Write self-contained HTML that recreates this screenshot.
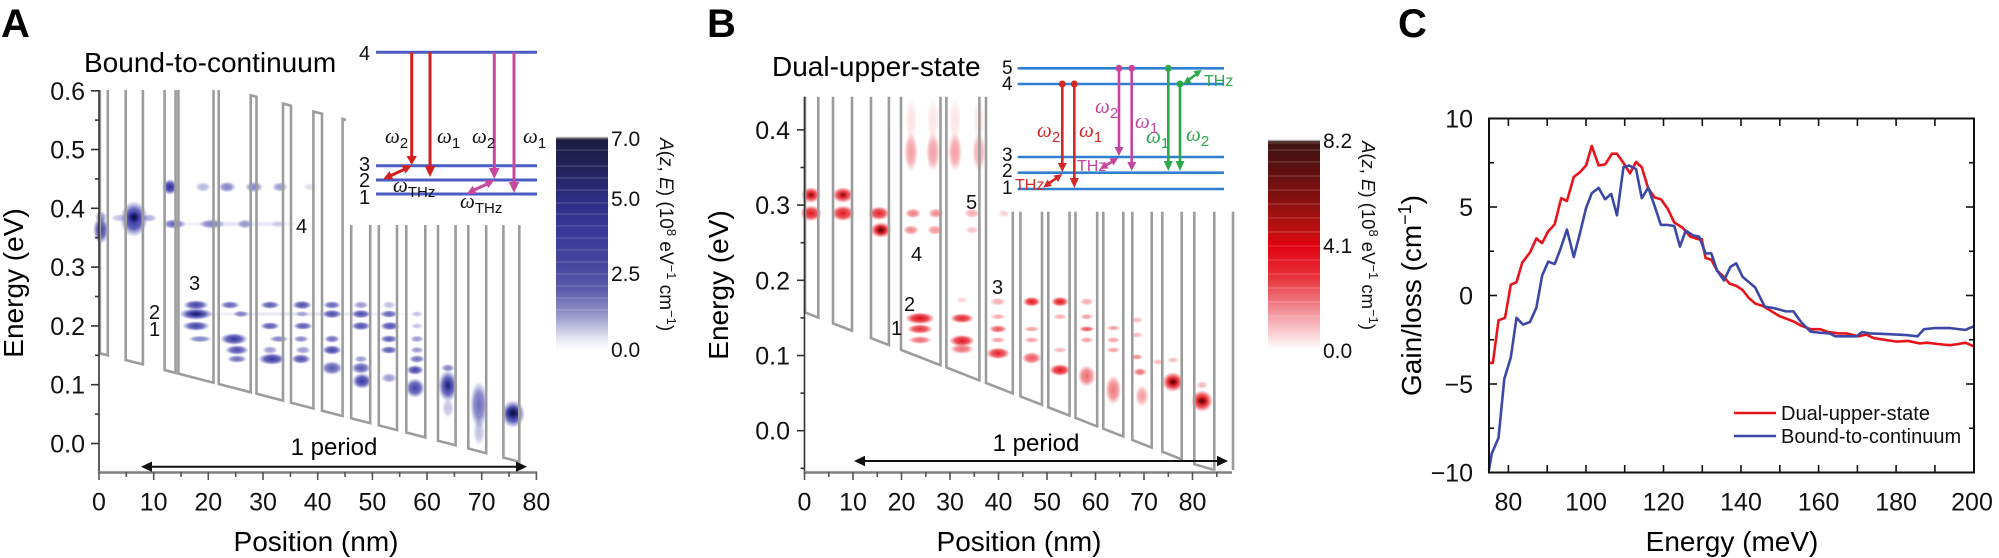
<!DOCTYPE html>
<html><head><meta charset="utf-8"><style>
html,body{margin:0;padding:0;background:#fff;}
svg{display:block;font-family:"Liberation Sans",Arial,sans-serif;}
</style></head><body>
<svg width="1999" height="558" viewBox="0 0 1999 558" xmlns="http://www.w3.org/2000/svg">
<defs>
<radialGradient id="ga"><stop offset="0" stop-color="#2a2a9c" stop-opacity="1"/><stop offset="0.55" stop-color="#3434a6" stop-opacity="0.78"/><stop offset="0.8" stop-color="#4a4ab0" stop-opacity="0.35"/><stop offset="1" stop-color="#5a5ab8" stop-opacity="0"/></radialGradient>
<radialGradient id="gad"><stop offset="0" stop-color="#0c0c38" stop-opacity="1"/><stop offset="0.5" stop-color="#18186a" stop-opacity="0.7"/><stop offset="1" stop-color="#2a2a9c" stop-opacity="0"/></radialGradient>
<radialGradient id="gr"><stop offset="0" stop-color="#e00814" stop-opacity="1"/><stop offset="0.55" stop-color="#e41822" stop-opacity="0.78"/><stop offset="0.8" stop-color="#ea3038" stop-opacity="0.35"/><stop offset="1" stop-color="#f05058" stop-opacity="0"/></radialGradient>
<radialGradient id="grd"><stop offset="0" stop-color="#4a0404" stop-opacity="1"/><stop offset="0.5" stop-color="#8a0808" stop-opacity="0.7"/><stop offset="1" stop-color="#e00814" stop-opacity="0"/></radialGradient>
<linearGradient id="cba" x1="0" y1="0" x2="0" y2="1">
<stop offset="0" stop-color="#1c1c3e"/><stop offset="0.15" stop-color="#22225c"/><stop offset="0.3" stop-color="#2e2e86"/><stop offset="0.45" stop-color="#383898"/><stop offset="0.6" stop-color="#46469e"/><stop offset="0.72" stop-color="#5c5cac"/><stop offset="0.84" stop-color="#9a9acc"/><stop offset="0.94" stop-color="#e2e2f0"/><stop offset="1" stop-color="#ffffff"/></linearGradient>
<linearGradient id="cbb" x1="0" y1="0" x2="0" y2="1">
<stop offset="0" stop-color="#3c1410"/><stop offset="0.12" stop-color="#581010"/><stop offset="0.3" stop-color="#8c1010"/><stop offset="0.44" stop-color="#c01010"/><stop offset="0.5" stop-color="#e00010"/><stop offset="0.65" stop-color="#e83038"/><stop offset="0.8" stop-color="#f08890"/><stop offset="0.92" stop-color="#fad0d4"/><stop offset="1" stop-color="#ffffff"/></linearGradient>
<clipPath id="clipA"><rect x="97" y="90" width="445" height="384"/></clipPath>
<clipPath id="clipB"><rect x="802" y="96.7" width="435" height="374"/></clipPath>
</defs>
<rect width="1999" height="558" fill="#fff"/>

<!-- ================= PANEL A ================= -->
<text x="1" y="37" font-size="40" font-weight="bold">A</text>
<g fill="url(#ga)">
<ellipse cx="101" cy="230" rx="8" ry="14" opacity="0.9"/>
<ellipse cx="101" cy="217" rx="6" ry="6" opacity="0.5"/>
<ellipse cx="134" cy="219" rx="14" ry="18" opacity="1"/>
<ellipse cx="149" cy="218" rx="8" ry="4" opacity="0.4"/>
<ellipse cx="119" cy="218" rx="8" ry="4" opacity="0.3"/>
<ellipse cx="170" cy="187" rx="8" ry="8" opacity="1"/>
<ellipse cx="203" cy="187" rx="8" ry="5" opacity="0.35"/>
<ellipse cx="227" cy="187" rx="9" ry="5.5" opacity="0.6"/>
<ellipse cx="254" cy="187" rx="9" ry="5.5" opacity="0.6"/>
<ellipse cx="280" cy="187" rx="8" ry="5" opacity="0.5"/>
<ellipse cx="310" cy="187" rx="7" ry="4" opacity="0.15"/>
<ellipse cx="174" cy="224" rx="12" ry="5" opacity="0.75"/>
<ellipse cx="212" cy="224" rx="13" ry="5" opacity="0.6"/>
<ellipse cx="245" cy="224" rx="8" ry="5" opacity="0.45"/>
<ellipse cx="278" cy="224" rx="7" ry="4" opacity="0.2"/>
<ellipse cx="240" cy="224" rx="80" ry="3" opacity="0.12"/>
<ellipse cx="196" cy="305" rx="13" ry="5" opacity="0.9"/>
<ellipse cx="230" cy="305" rx="10" ry="4" opacity="0.75"/>
<ellipse cx="270" cy="305" rx="10" ry="4" opacity="0.8"/>
<ellipse cx="302" cy="305" rx="10" ry="4.5" opacity="0.85"/>
<ellipse cx="332" cy="305" rx="9" ry="4" opacity="0.75"/>
<ellipse cx="361" cy="305" rx="8" ry="4" opacity="0.5"/>
<ellipse cx="389" cy="305" rx="7" ry="4" opacity="0.3"/>
<ellipse cx="196" cy="314" rx="17" ry="6" opacity="1"/>
<ellipse cx="241" cy="314" rx="8" ry="3.5" opacity="0.6"/>
<ellipse cx="302" cy="314" rx="7" ry="3" opacity="0.4"/>
<ellipse cx="332" cy="314" rx="10" ry="4.5" opacity="0.85"/>
<ellipse cx="361" cy="314" rx="10" ry="4.5" opacity="0.85"/>
<ellipse cx="389" cy="314" rx="9" ry="4" opacity="0.75"/>
<ellipse cx="417" cy="314" rx="6" ry="3" opacity="0.3"/>
<ellipse cx="300" cy="314" rx="130" ry="2.5" opacity="0.12"/>
<ellipse cx="196" cy="326" rx="14" ry="5" opacity="0.9"/>
<ellipse cx="270" cy="326" rx="10" ry="4" opacity="0.8"/>
<ellipse cx="303" cy="326" rx="10" ry="4" opacity="0.8"/>
<ellipse cx="361" cy="326" rx="10" ry="4.5" opacity="0.85"/>
<ellipse cx="390" cy="326" rx="10" ry="4.5" opacity="0.85"/>
<ellipse cx="417" cy="326" rx="6" ry="3" opacity="0.3"/>
<ellipse cx="200" cy="339" rx="12" ry="3.5" opacity="0.6"/>
<ellipse cx="234" cy="339" rx="14" ry="6" opacity="0.95"/>
<ellipse cx="279" cy="339" rx="10" ry="3.5" opacity="0.6"/>
<ellipse cx="301" cy="339" rx="8" ry="3.5" opacity="0.6"/>
<ellipse cx="332" cy="339" rx="8" ry="4" opacity="0.7"/>
<ellipse cx="389" cy="339" rx="9" ry="4" opacity="0.8"/>
<ellipse cx="417" cy="339" rx="7" ry="3.5" opacity="0.5"/>
<ellipse cx="237" cy="350" rx="12" ry="5" opacity="0.85"/>
<ellipse cx="270" cy="350" rx="8" ry="4" opacity="0.5"/>
<ellipse cx="303" cy="350" rx="8" ry="4" opacity="0.5"/>
<ellipse cx="332" cy="350" rx="10" ry="5" opacity="0.9"/>
<ellipse cx="389" cy="350" rx="9" ry="4" opacity="0.8"/>
<ellipse cx="417" cy="350" rx="7" ry="3.5" opacity="0.5"/>
<ellipse cx="237" cy="359" rx="10" ry="4" opacity="0.7"/>
<ellipse cx="272" cy="359" rx="14" ry="6" opacity="0.95"/>
<ellipse cx="301" cy="359" rx="10" ry="5" opacity="0.85"/>
<ellipse cx="361" cy="359" rx="7" ry="3.5" opacity="0.5"/>
<ellipse cx="417" cy="359" rx="8" ry="4" opacity="0.7"/>
<ellipse cx="332" cy="368" rx="11" ry="7" opacity="0.8"/>
<ellipse cx="361" cy="368" rx="10" ry="6" opacity="0.8"/>
<ellipse cx="415" cy="370" rx="9" ry="5" opacity="0.9"/>
<ellipse cx="448" cy="368" rx="7" ry="4" opacity="0.6"/>
<ellipse cx="362" cy="381" rx="10" ry="8" opacity="0.95"/>
<ellipse cx="389" cy="378" rx="8" ry="5" opacity="0.5"/>
<ellipse cx="415" cy="388" rx="10" ry="10" opacity="0.9"/>
<ellipse cx="448" cy="386" rx="10" ry="16" opacity="0.95"/>
<ellipse cx="448" cy="408" rx="6" ry="10" opacity="0.3"/>
<ellipse cx="479" cy="405" rx="9" ry="24" opacity="0.7"/>
<ellipse cx="479" cy="432" rx="6" ry="14" opacity="0.3"/>
<ellipse cx="513" cy="414" rx="12" ry="14" opacity="1"/>
</g>
<ellipse cx="134" cy="217" rx="7" ry="6" fill="url(#gad)"/>
<ellipse cx="196" cy="314" rx="9" ry="3" fill="url(#gad)" opacity="0.6"/>
<ellipse cx="513" cy="413" rx="8" ry="7" fill="url(#gad)"/>
<ellipse cx="448" cy="385" rx="5" ry="7" fill="url(#gad)" opacity="0.5"/>
<g clip-path="url(#clipA)">
<path d="M99.9,56.3 L99.9,353.3 L107.8,355.3 L107.8,58.3 L125.7,63 L125.7,360 L142.9,364.4 L142.9,67.4 L164.6,73 L164.6,370 L175.6,372.9 L175.6,75.9 L178.4,76.6 L178.4,373.6 L213.5,382.7 L213.5,85.7 L218.7,87 L218.7,384 L250.7,392.3 L250.7,95.3 L256.5,96.8 L256.5,393.8 L283,400.6 L283,103.6 L291,105.7 L291,402.7 L313.4,408.5 L313.4,111.5 L322,113.7 L322,410.7 L342.6,416 L342.6,119 L351.2,121.3 L351.2,418.3 L370.2,423.2 L370.2,126.2 L378.8,128.4 L378.8,425.4 L397,430.1 L397,133.1 L406.3,135.5 L406.3,432.5 L425.3,437.4 L425.3,140.4 L438,143.7 L438,440.7 L455.6,445.2 L455.6,148.2 L468.3,151.5 L468.3,448.5 L486.2,453.2 L486.2,156.2 L503.4,160.6 L503.4,457.6 L519.3,461.7 L519.3,164.7" fill="none" stroke="#9c9c9c" stroke-width="2.6" stroke-linejoin="miter"/>
</g>
<rect x="346" y="0" width="206" height="225" fill="#fff"/>
<g stroke="#4a5cc4" stroke-width="3">
<line x1="376" y1="52.3" x2="537" y2="52.3"/>
<line x1="376" y1="165.7" x2="537" y2="165.7"/>
<line x1="376" y1="180" x2="537" y2="180"/>
<line x1="376" y1="194" x2="537" y2="194"/>
</g>
<g font-size="20" fill="#111">
<text x="359" y="60">4</text><text x="359" y="171">3</text><text x="359" y="187">2</text><text x="359" y="204">1</text>
</g>
<g stroke="#d62020" stroke-width="3" fill="#d62020">
<line x1="411.7" y1="52" x2="411.7" y2="158"/><polygon points="406.5,156 416.9,156 411.7,165" stroke="none"/>
<line x1="430" y1="52" x2="430" y2="168"/><polygon points="424.8,166 435.2,166 430,177" stroke="none"/>
<line x1="390" y1="176" x2="405" y2="169"/>
<polygon points="383.3,179 393.3,179.2 389.5,171" stroke="none"/>
<polygon points="411.7,165.5 405.5,173.5 401.7,165.3" stroke="none"/>
</g>
<g stroke="#c8489e" stroke-width="3" fill="#c8489e">
<line x1="494.3" y1="52" x2="494.3" y2="170"/><polygon points="489,168 499.6,168 494.3,179" stroke="none"/>
<line x1="514" y1="52" x2="514" y2="184"/><polygon points="508.8,182 519.2,182 514,193" stroke="none"/>
<line x1="474" y1="190" x2="487" y2="184"/>
<polygon points="466.7,194 476.8,193.9 472.7,185.9" stroke="none"/>
<polygon points="494.3,180 488.3,188.1 484.3,180.1" stroke="none"/>
</g>
<g fill="#111" font-family="Liberation Serif,serif" font-style="italic" font-size="21">
<text x="385" y="143">ω<tspan font-family="Liberation Sans,sans-serif" font-style="normal" font-size="15" dy="5">2</tspan></text>
<text x="437" y="143">ω<tspan font-family="Liberation Sans,sans-serif" font-style="normal" font-size="15" dy="5">1</tspan></text>
<text x="472" y="143">ω<tspan font-family="Liberation Sans,sans-serif" font-style="normal" font-size="15" dy="5">2</tspan></text>
<text x="523" y="143">ω<tspan font-family="Liberation Sans,sans-serif" font-style="normal" font-size="15" dy="5">1</tspan></text>
<text x="393" y="192">ω<tspan font-family="Liberation Sans,sans-serif" font-style="normal" font-size="15" dy="5">THz</tspan></text>
<text x="460" y="208">ω<tspan font-family="Liberation Sans,sans-serif" font-style="normal" font-size="15" dy="5">THz</tspan></text>
</g>
<text x="84" y="72" font-size="28">Bound-to-continuum</text>
<line x1="99" y1="90" x2="99" y2="473" stroke="#333" stroke-width="1.6"/>
<line x1="98" y1="472.5" x2="537" y2="472.5" stroke="#808080" stroke-width="2.5"/>
<g stroke="#333" stroke-width="1.6">
<line x1="91" y1="443.5" x2="99" y2="443.5"/><line x1="91" y1="384.7" x2="99" y2="384.7"/><line x1="91" y1="325.9" x2="99" y2="325.9"/><line x1="91" y1="267.1" x2="99" y2="267.1"/><line x1="91" y1="208.3" x2="99" y2="208.3"/><line x1="91" y1="149.5" x2="99" y2="149.5"/><line x1="91" y1="90.8" x2="99" y2="90.8"/>
<line x1="95" y1="414.1" x2="99" y2="414.1"/><line x1="95" y1="355.3" x2="99" y2="355.3"/><line x1="95" y1="296.5" x2="99" y2="296.5"/><line x1="95" y1="237.7" x2="99" y2="237.7"/><line x1="95" y1="178.9" x2="99" y2="178.9"/><line x1="95" y1="120.1" x2="99" y2="120.1"/>
</g>
<g stroke="#555" stroke-width="1.6">
<line x1="99" y1="472" x2="99" y2="480"/><line x1="153.7" y1="472" x2="153.7" y2="480"/><line x1="208.3" y1="472" x2="208.3" y2="480"/><line x1="263" y1="472" x2="263" y2="480"/><line x1="317.7" y1="472" x2="317.7" y2="480"/><line x1="372.4" y1="472" x2="372.4" y2="480"/><line x1="427" y1="472" x2="427" y2="480"/><line x1="481.7" y1="472" x2="481.7" y2="480"/><line x1="536.4" y1="472" x2="536.4" y2="480"/>
<line x1="126.3" y1="472" x2="126.3" y2="477"/><line x1="181" y1="472" x2="181" y2="477"/><line x1="235.7" y1="472" x2="235.7" y2="477"/><line x1="290.4" y1="472" x2="290.4" y2="477"/><line x1="345" y1="472" x2="345" y2="477"/><line x1="399.7" y1="472" x2="399.7" y2="477"/><line x1="454.4" y1="472" x2="454.4" y2="477"/><line x1="509" y1="472" x2="509" y2="477"/>
</g>
<g font-size="25" text-anchor="end" fill="#111">
<text x="85" y="452.5">0.0</text><text x="85" y="393.7">0.1</text><text x="85" y="334.9">0.2</text><text x="85" y="276.1">0.3</text><text x="85" y="217.3">0.4</text><text x="85" y="158.5">0.5</text><text x="85" y="99.8">0.6</text>
</g>
<g font-size="25" text-anchor="middle" fill="#111">
<text x="99" y="510.5">0</text><text x="153.7" y="510.5">10</text><text x="208.3" y="510.5">20</text><text x="263" y="510.5">30</text><text x="317.7" y="510.5">40</text><text x="372.4" y="510.5">50</text><text x="427" y="510.5">60</text><text x="481.7" y="510.5">70</text><text x="536.4" y="510.5">80</text>
</g>
<text x="316" y="551" font-size="28" text-anchor="middle">Position (nm)</text>
<text transform="translate(23,283) rotate(-90)" font-size="28" text-anchor="middle">Energy (eV)</text>
<g font-size="20" fill="#111">
<text x="296" y="233">4</text><text x="189" y="290">3</text><text x="149" y="319">2</text><text x="149" y="336">1</text>
</g>
<text x="334" y="455" font-size="24" text-anchor="middle">1 period</text>
<line x1="148" y1="466.7" x2="520" y2="466.7" stroke="#111" stroke-width="2"/>
<polygon points="141,466.7 152,461.5 152,471.9" fill="#111"/>
<polygon points="527,466.7 516,461.5 516,471.9" fill="#111"/>
<rect x="556" y="137" width="52" height="213" fill="url(#cba)"/>
<g stroke="#fff" stroke-opacity="0.3" stroke-width="0.8">
<line x1="556" y1="139" x2="608" y2="139"/><line x1="556" y1="150" x2="608" y2="150"/><line x1="556" y1="166" x2="608" y2="166"/><line x1="556" y1="178" x2="608" y2="178"/><line x1="556" y1="190" x2="608" y2="190"/><line x1="556" y1="203" x2="608" y2="203"/><line x1="556" y1="214" x2="608" y2="214"/><line x1="556" y1="226" x2="608" y2="226"/><line x1="556" y1="238" x2="608" y2="238"/><line x1="556" y1="250" x2="608" y2="250"/><line x1="556" y1="262" x2="608" y2="262"/><line x1="556" y1="274" x2="608" y2="274"/><line x1="556" y1="286" x2="608" y2="286"/><line x1="556" y1="298" x2="608" y2="298"/><line x1="556" y1="310" x2="608" y2="310"/>
</g>
<line x1="556" y1="137.5" x2="608" y2="137.5" stroke="#aaa" stroke-width="1.5"/>
<g font-size="21" fill="#111">
<text x="611" y="146">7.0</text><text x="611" y="206">5.0</text><text x="611" y="281">2.5</text><text x="611" y="357">0.0</text>
</g>
<text transform="translate(660,138) rotate(90)" font-size="19" fill="#111"><tspan font-style="italic">A</tspan>(<tspan font-style="italic">z</tspan>, <tspan font-style="italic">E</tspan>) (10<tspan font-size="13" dy="-7">8</tspan><tspan dy="7"> eV</tspan><tspan font-size="13" dy="-7">−1</tspan><tspan dy="7"> cm</tspan><tspan font-size="13" dy="-7">−1</tspan><tspan dy="7">)</tspan></text>

<!-- ================= PANEL B ================= -->
<text x="707" y="37" font-size="40" font-weight="bold">B</text>
<g fill="url(#gr)">
<ellipse cx="811" cy="195" rx="10" ry="8" opacity="0.95"/>
<ellipse cx="843" cy="195" rx="11" ry="8" opacity="0.95"/>
<ellipse cx="811" cy="213.3" rx="11" ry="8" opacity="0.95"/>
<ellipse cx="843" cy="213.3" rx="12" ry="8" opacity="0.95"/>
<ellipse cx="879" cy="213.3" rx="11" ry="7" opacity="0.9"/>
<ellipse cx="913" cy="213.3" rx="8" ry="5" opacity="0.55"/>
<ellipse cx="936" cy="213.3" rx="8" ry="5" opacity="0.5"/>
<ellipse cx="972" cy="213.3" rx="8" ry="5" opacity="0.35"/>
<ellipse cx="1004" cy="213.3" rx="6" ry="4" opacity="0.2"/>
<ellipse cx="881" cy="230" rx="11" ry="8" opacity="1"/>
<ellipse cx="911" cy="230" rx="8" ry="5" opacity="0.5"/>
<ellipse cx="935" cy="230" rx="8" ry="5" opacity="0.45"/>
<ellipse cx="972" cy="230" rx="7" ry="4" opacity="0.25"/>
<ellipse cx="911" cy="152" rx="7" ry="20" opacity="0.4"/>
<ellipse cx="933" cy="152" rx="7" ry="20" opacity="0.4"/>
<ellipse cx="955" cy="152" rx="7" ry="20" opacity="0.4"/>
<ellipse cx="979" cy="152" rx="7" ry="20" opacity="0.35"/>
<ellipse cx="911" cy="120" rx="6" ry="22" opacity="0.12"/>
<ellipse cx="933" cy="120" rx="6" ry="22" opacity="0.12"/>
<ellipse cx="955" cy="120" rx="6" ry="22" opacity="0.12"/>
<ellipse cx="979" cy="120" rx="6" ry="22" opacity="0.12"/>
<ellipse cx="920" cy="318.3" rx="15" ry="6" opacity="1"/>
<ellipse cx="920" cy="329" rx="13" ry="5" opacity="0.85"/>
<ellipse cx="920" cy="340" rx="12" ry="4" opacity="0.6"/>
<ellipse cx="962" cy="300" rx="6" ry="3" opacity="0.2"/>
<ellipse cx="962" cy="318.3" rx="12" ry="5" opacity="0.9"/>
<ellipse cx="962" cy="340.7" rx="13" ry="6" opacity="0.95"/>
<ellipse cx="962" cy="349" rx="12" ry="5" opacity="0.6"/>
<ellipse cx="998" cy="301.7" rx="8" ry="4" opacity="0.35"/>
<ellipse cx="998" cy="316.7" rx="8" ry="3" opacity="0.35"/>
<ellipse cx="998" cy="329" rx="9" ry="4" opacity="0.7"/>
<ellipse cx="998" cy="340" rx="8" ry="3" opacity="0.4"/>
<ellipse cx="998" cy="353.3" rx="12" ry="6" opacity="0.9"/>
<ellipse cx="1031.7" cy="301.7" rx="9" ry="5" opacity="0.95"/>
<ellipse cx="1031.7" cy="329" rx="8" ry="3" opacity="0.4"/>
<ellipse cx="1031.7" cy="340" rx="8" ry="3" opacity="0.4"/>
<ellipse cx="1031.7" cy="358" rx="10" ry="6" opacity="0.7"/>
<ellipse cx="1060" cy="301.7" rx="9" ry="5" opacity="0.95"/>
<ellipse cx="1060" cy="316.7" rx="7" ry="3" opacity="0.35"/>
<ellipse cx="1060" cy="350" rx="7" ry="3" opacity="0.3"/>
<ellipse cx="1060" cy="370" rx="11" ry="6" opacity="0.95"/>
<ellipse cx="1086.7" cy="301.7" rx="7" ry="4" opacity="0.35"/>
<ellipse cx="1086.7" cy="316.7" rx="7" ry="3" opacity="0.4"/>
<ellipse cx="1086.7" cy="329" rx="8" ry="3" opacity="0.7"/>
<ellipse cx="1086.7" cy="340" rx="7" ry="3" opacity="0.4"/>
<ellipse cx="1086.7" cy="376" rx="9" ry="11" opacity="0.6"/>
<ellipse cx="1113.3" cy="328" rx="7" ry="3" opacity="0.4"/>
<ellipse cx="1113.3" cy="340" rx="7" ry="3" opacity="0.4"/>
<ellipse cx="1113.3" cy="350" rx="7" ry="3" opacity="0.4"/>
<ellipse cx="1113.3" cy="390" rx="8" ry="15" opacity="0.55"/>
<ellipse cx="1137" cy="320" rx="6" ry="3" opacity="0.3"/>
<ellipse cx="1137" cy="335" rx="6" ry="3" opacity="0.3"/>
<ellipse cx="1137" cy="357" rx="6" ry="3" opacity="0.5"/>
<ellipse cx="1140" cy="372" rx="7" ry="4" opacity="0.6"/>
<ellipse cx="1142" cy="396" rx="7" ry="11" opacity="0.4"/>
<ellipse cx="1158" cy="362" rx="6" ry="3" opacity="0.3"/>
<ellipse cx="1173" cy="360" rx="6" ry="3" opacity="0.3"/>
<ellipse cx="1173" cy="382" rx="11" ry="10" opacity="1"/>
<ellipse cx="1202" cy="385" rx="6" ry="4" opacity="0.3"/>
<ellipse cx="1202" cy="401" rx="11" ry="11" opacity="1"/>
</g>
<ellipse cx="811" cy="195" rx="5" ry="4" fill="url(#grd)" opacity="0.6"/>
<ellipse cx="843" cy="195" rx="5" ry="4" fill="url(#grd)" opacity="0.6"/>
<ellipse cx="881" cy="230" rx="6" ry="5" fill="url(#grd)"/>
<ellipse cx="1173" cy="382" rx="6" ry="5" fill="url(#grd)"/>
<ellipse cx="1202" cy="401" rx="6" ry="5" fill="url(#grd)"/>
<g clip-path="url(#clipB)">
<path d="M805,0 L805,312.4 L818.3,317.6 L818.3,0 M833,0 L833,323.3 L852,330.7 L852,0 M871,0 L871,338.1 L888.9,345.1 L888.9,0 M901,0 L901,349.8 L940.5,365.2 L940.5,0 M946.4,0 L946.4,367.5 L979.4,380.4 L979.4,0 M986,0 L986,383 L1012.8,393.4 L1012.8,0 M1020.4,0 L1020.4,396.4 L1042,404.8 L1042,0 M1048.3,0 L1048.3,407.3 L1069.6,415.6 L1069.6,0 M1075.5,0 L1075.5,417.9 L1097.2,426.4 L1097.2,0 M1103.3,0 L1103.3,428.7 L1123.3,436.5 L1123.3,0 M1132.3,0 L1132.3,440 L1151.7,447.6 L1151.7,0 M1162.3,0 L1162.3,451.7 L1181.7,459.3 L1181.7,0 M1194.3,0 L1194.3,464.2 L1214.3,470 L1214.3,0 M1233,0 L1233,470" fill="none" stroke="#9c9c9c" stroke-width="2.6"/>
</g>
<rect x="1005" y="0" width="235" height="211.7" fill="#fff"/>
<g stroke="#2f80d0" stroke-width="2.6">
<line x1="1017.7" y1="68.3" x2="1224" y2="68.3"/>
<line x1="1017.7" y1="84" x2="1224" y2="84"/>
<line x1="1017.7" y1="157" x2="1224" y2="157"/>
<line x1="1017.7" y1="172.7" x2="1224" y2="172.7"/>
<line x1="1017.7" y1="189" x2="1224" y2="189"/>
</g>
<g font-size="19" fill="#111">
<text x="1002" y="74">5</text><text x="1002" y="90">4</text><text x="1002" y="161">3</text><text x="1002" y="177">2</text><text x="1002" y="194">1</text>
</g>
<g stroke="#d42828" stroke-width="2.6" fill="#d42828">
<circle cx="1062.3" cy="84" r="3.5" stroke="none"/><circle cx="1074.3" cy="84" r="3.5" stroke="none"/>
<line x1="1062.3" y1="84" x2="1062.3" y2="165"/><polygon points="1057.8,163 1066.8,163 1062.3,172" stroke="none"/>
<line x1="1074.3" y1="84" x2="1074.3" y2="180"/><polygon points="1069.8,178 1078.8,178 1074.3,188" stroke="none"/>
<line x1="1048" y1="184" x2="1058" y2="177"/>
<polygon points="1043.3,187.5 1052,186 1047.5,179.5" stroke="none"/>
<polygon points="1062.3,174 1053.6,175.5 1058.1,182" stroke="none"/>
</g>
<g stroke="#c4449e" stroke-width="2.6" fill="#c4449e">
<circle cx="1119" cy="68.3" r="3.5" stroke="none"/><circle cx="1131.7" cy="68.3" r="3.5" stroke="none"/>
<line x1="1119" y1="68.3" x2="1119" y2="148"/><polygon points="1114.5,147 1123.5,147 1119,156" stroke="none"/>
<line x1="1131.7" y1="68.3" x2="1131.7" y2="163"/><polygon points="1127.2,162 1136.2,162 1131.7,171" stroke="none"/>
<line x1="1104" y1="166.5" x2="1114" y2="160.5"/>
<polygon points="1100,169 1108.5,168.5 1104.5,161.5" stroke="none"/>
<polygon points="1118,158 1109.5,158.5 1113.5,165.5" stroke="none"/>
</g>
<g stroke="#2aa84a" stroke-width="2.6" fill="#2aa84a">
<circle cx="1168.3" cy="68.3" r="3.5" stroke="none"/><circle cx="1180" cy="84" r="3.5" stroke="none"/>
<line x1="1168.3" y1="68.3" x2="1168.3" y2="163"/><polygon points="1163.8,161 1172.8,161 1168.3,171" stroke="none"/>
<line x1="1180" y1="84" x2="1180" y2="163"/><polygon points="1175.5,161 1184.5,161 1180,171" stroke="none"/>
<line x1="1187" y1="81" x2="1198" y2="73"/>
<polygon points="1183.3,84 1191.5,83 1187.5,76.5" stroke="none"/>
<polygon points="1201.7,70 1193.5,71 1197.5,77.5" stroke="none"/>
</g>
<g font-size="16">
<text x="1015" y="190" fill="#d42828">THz</text>
<text x="1077" y="171" fill="#c4449e">THz</text>
<text x="1204" y="86" fill="#2aa84a">THz</text>
</g>
<g font-family="Liberation Serif,serif" font-style="italic" font-size="21">
<text x="1037" y="137" fill="#d42828">ω<tspan font-family="Liberation Sans,sans-serif" font-style="normal" font-size="15" dy="5">2</tspan></text>
<text x="1079" y="137" fill="#d42828">ω<tspan font-family="Liberation Sans,sans-serif" font-style="normal" font-size="15" dy="5">1</tspan></text>
<text x="1095" y="113" fill="#c4449e">ω<tspan font-family="Liberation Sans,sans-serif" font-style="normal" font-size="15" dy="5">2</tspan></text>
<text x="1135" y="128" fill="#c4449e">ω<tspan font-family="Liberation Sans,sans-serif" font-style="normal" font-size="15" dy="5">1</tspan></text>
<text x="1146" y="143" fill="#2aa84a">ω<tspan font-family="Liberation Sans,sans-serif" font-style="normal" font-size="15" dy="5">1</tspan></text>
<text x="1186" y="141" fill="#2aa84a">ω<tspan font-family="Liberation Sans,sans-serif" font-style="normal" font-size="15" dy="5">2</tspan></text>
</g>
<text x="772" y="76" font-size="28">Dual-upper-state</text>
<line x1="804.5" y1="96.7" x2="804.5" y2="473" stroke="#333" stroke-width="1.6"/>
<line x1="803.5" y1="472.5" x2="1232" y2="472.5" stroke="#808080" stroke-width="2.5"/>
<g stroke="#333" stroke-width="1.6">
<line x1="797" y1="129.9" x2="804.5" y2="129.9"/><line x1="797" y1="205.1" x2="804.5" y2="205.1"/><line x1="797" y1="280.3" x2="804.5" y2="280.3"/><line x1="797" y1="355.5" x2="804.5" y2="355.5"/><line x1="797" y1="430.7" x2="804.5" y2="430.7"/>
<line x1="800.5" y1="167.5" x2="804.5" y2="167.5"/><line x1="800.5" y1="242.7" x2="804.5" y2="242.7"/><line x1="800.5" y1="317.9" x2="804.5" y2="317.9"/><line x1="800.5" y1="393.1" x2="804.5" y2="393.1"/><line x1="800.5" y1="468.3" x2="804.5" y2="468.3"/>
</g>
<g stroke="#555" stroke-width="1.6">
<line x1="804.5" y1="472" x2="804.5" y2="480"/><line x1="853" y1="472" x2="853" y2="480"/><line x1="901.5" y1="472" x2="901.5" y2="480"/><line x1="950" y1="472" x2="950" y2="480"/><line x1="998.5" y1="472" x2="998.5" y2="480"/><line x1="1047" y1="472" x2="1047" y2="480"/><line x1="1095.5" y1="472" x2="1095.5" y2="480"/><line x1="1144" y1="472" x2="1144" y2="480"/><line x1="1192.5" y1="472" x2="1192.5" y2="480"/>
<line x1="828.8" y1="472" x2="828.8" y2="477"/><line x1="877.3" y1="472" x2="877.3" y2="477"/><line x1="925.8" y1="472" x2="925.8" y2="477"/><line x1="974.3" y1="472" x2="974.3" y2="477"/><line x1="1022.8" y1="472" x2="1022.8" y2="477"/><line x1="1071.3" y1="472" x2="1071.3" y2="477"/><line x1="1119.8" y1="472" x2="1119.8" y2="477"/><line x1="1168.3" y1="472" x2="1168.3" y2="477"/><line x1="1216.8" y1="472" x2="1216.8" y2="477"/>
</g>
<g font-size="25" text-anchor="end" fill="#111">
<text x="790" y="138.9">0.4</text><text x="790" y="214.1">0.3</text><text x="790" y="289.3">0.2</text><text x="790" y="364.5">0.1</text><text x="790" y="439.7">0.0</text>
</g>
<g font-size="25" text-anchor="middle" fill="#111">
<text x="804.5" y="510.5">0</text><text x="853" y="510.5">10</text><text x="901.5" y="510.5">20</text><text x="950" y="510.5">30</text><text x="998.5" y="510.5">40</text><text x="1047" y="510.5">50</text><text x="1095.5" y="510.5">60</text><text x="1144" y="510.5">70</text><text x="1192.5" y="510.5">80</text>
</g>
<text x="1019" y="551" font-size="28" text-anchor="middle">Position (nm)</text>
<text transform="translate(728,285) rotate(-90)" font-size="28" text-anchor="middle">Energy (eV)</text>
<g font-size="20" fill="#111">
<text x="966" y="209">5</text><text x="911" y="261">4</text><text x="992" y="294">3</text><text x="904" y="311">2</text><text x="891" y="335">1</text>
</g>
<text x="1036" y="451" font-size="24" text-anchor="middle">1 period</text>
<line x1="861" y1="461" x2="1220" y2="461" stroke="#111" stroke-width="2"/>
<polygon points="854,461 865,455.8 865,466.2" fill="#111"/>
<polygon points="1228,461 1217,455.8 1217,466.2" fill="#111"/>
<rect x="1268" y="140" width="52" height="210" fill="url(#cbb)"/>
<g stroke="#fff" stroke-opacity="0.3" stroke-width="0.8">
<line x1="1268" y1="143" x2="1320" y2="143"/><line x1="1268" y1="150" x2="1320" y2="150"/><line x1="1268" y1="162" x2="1320" y2="162"/><line x1="1268" y1="176" x2="1320" y2="176"/><line x1="1268" y1="190" x2="1320" y2="190"/><line x1="1268" y1="204" x2="1320" y2="204"/><line x1="1268" y1="218" x2="1320" y2="218"/><line x1="1268" y1="232" x2="1320" y2="232"/><line x1="1268" y1="246" x2="1320" y2="246"/><line x1="1268" y1="260" x2="1320" y2="260"/><line x1="1268" y1="274" x2="1320" y2="274"/><line x1="1268" y1="288" x2="1320" y2="288"/><line x1="1268" y1="302" x2="1320" y2="302"/><line x1="1268" y1="316" x2="1320" y2="316"/>
</g>
<line x1="1268" y1="140.5" x2="1320" y2="140.5" stroke="#aaa" stroke-width="1.5"/>
<g font-size="21" fill="#111">
<text x="1323" y="148">8.2</text><text x="1323" y="253">4.1</text><text x="1323" y="358">0.0</text>
</g>
<text transform="translate(1362,141) rotate(90)" font-size="18.5" fill="#111"><tspan font-style="italic">A</tspan>(<tspan font-style="italic">z</tspan>, <tspan font-style="italic">E</tspan>) (10<tspan font-size="13" dy="-7">8</tspan><tspan dy="7"> eV</tspan><tspan font-size="13" dy="-7">−1</tspan><tspan dy="7"> cm</tspan><tspan font-size="13" dy="-7">−1</tspan><tspan dy="7">)</tspan></text>

<!-- ================= PANEL C ================= -->
<text x="1398" y="37" font-size="40" font-weight="bold">C</text>
<g stroke="#111" stroke-width="1.6">
<line x1="1508.4" y1="472.5" x2="1508.4" y2="465"/><line x1="1547.2" y1="472.5" x2="1547.2" y2="465"/><line x1="1586" y1="472.5" x2="1586" y2="465"/><line x1="1624.7" y1="472.5" x2="1624.7" y2="465"/><line x1="1663.5" y1="472.5" x2="1663.5" y2="465"/><line x1="1702.3" y1="472.5" x2="1702.3" y2="465"/><line x1="1741" y1="472.5" x2="1741" y2="465"/><line x1="1779.8" y1="472.5" x2="1779.8" y2="465"/><line x1="1818.6" y1="472.5" x2="1818.6" y2="465"/><line x1="1857.4" y1="472.5" x2="1857.4" y2="465"/><line x1="1896.1" y1="472.5" x2="1896.1" y2="465"/><line x1="1934.9" y1="472.5" x2="1934.9" y2="465"/>
<line x1="1508.4" y1="118.5" x2="1508.4" y2="126"/><line x1="1547.2" y1="118.5" x2="1547.2" y2="126"/><line x1="1586" y1="118.5" x2="1586" y2="126"/><line x1="1624.7" y1="118.5" x2="1624.7" y2="126"/><line x1="1663.5" y1="118.5" x2="1663.5" y2="126"/><line x1="1702.3" y1="118.5" x2="1702.3" y2="126"/><line x1="1741" y1="118.5" x2="1741" y2="126"/><line x1="1779.8" y1="118.5" x2="1779.8" y2="126"/><line x1="1818.6" y1="118.5" x2="1818.6" y2="126"/><line x1="1857.4" y1="118.5" x2="1857.4" y2="126"/><line x1="1896.1" y1="118.5" x2="1896.1" y2="126"/><line x1="1934.9" y1="118.5" x2="1934.9" y2="126"/>
<line x1="1489" y1="207" x2="1497" y2="207"/><line x1="1489" y1="295.5" x2="1497" y2="295.5"/><line x1="1489" y1="384" x2="1497" y2="384"/>
<line x1="1489" y1="162.75" x2="1494" y2="162.75"/><line x1="1489" y1="251.25" x2="1494" y2="251.25"/><line x1="1489" y1="339.75" x2="1494" y2="339.75"/><line x1="1489" y1="428.25" x2="1494" y2="428.25"/>
<line x1="1974" y1="207" x2="1966" y2="207"/><line x1="1974" y1="295.5" x2="1966" y2="295.5"/><line x1="1974" y1="384" x2="1966" y2="384"/>
<line x1="1974" y1="162.75" x2="1969" y2="162.75"/><line x1="1974" y1="251.25" x2="1969" y2="251.25"/><line x1="1974" y1="339.75" x2="1969" y2="339.75"/><line x1="1974" y1="428.25" x2="1969" y2="428.25"/>
</g>
<g transform="translate(1400,0) scale(0.38197,0.35587)" fill="none" stroke-linejoin="round">
<polyline vector-effect="non-scaling-stroke" stroke="#e8141c" stroke-width="2.6" points="233,1020 243,1020 258,900 275,893 290,800 305,793 320,738 340,710 357,670 372,683 388,650 405,630 422,557 437,565 455,497 470,485 487,465 502,410 520,465 537,462 555,432 568,432 585,458 602,487 618,455 633,470 650,530 667,555 683,560 700,585 718,625 740,640 760,665 780,672 790,672 800,725 815,730 830,760 845,775 863,797 880,803 897,815 913,837 930,853 950,860 970,873 993,888 1010,895 1030,903 1050,915 1075,925 1100,925 1120,933 1150,937 1170,937 1200,945 1220,940 1240,950 1270,955 1300,960 1330,958 1360,965 1380,963 1410,967 1440,970 1460,967 1480,963 1502,973"/>
<polyline vector-effect="non-scaling-stroke" stroke="#3c48a6" stroke-width="2.6" points="233,1320 240,1275 258,1230 273,1065 290,1005 305,893 322,912 340,905 357,865 372,775 388,735 405,742 420,700 437,645 455,722 470,660 487,585 502,543 520,528 537,560 553,545 568,605 585,470 600,465 618,475 633,557 650,527 667,580 683,632 700,632 718,635 733,693 748,648 768,662 783,665 800,712 815,712 830,760 848,788 865,750 880,740 897,778 930,808 955,862 980,866 1010,875 1030,875 1050,905 1075,932 1100,935 1125,937 1140,945 1170,945 1195,945 1210,933 1230,937 1260,938 1300,940 1330,942 1355,945 1372,925 1400,922 1440,922 1480,927 1502,917"/>
</g>
<rect x="1489" y="118.5" width="485" height="354" fill="none" stroke="#111" stroke-width="2"/>
<g font-size="25" text-anchor="end" fill="#111">
<text x="1473" y="127.5">10</text><text x="1473" y="216">5</text><text x="1473" y="304.5">0</text><text x="1473" y="393">−5</text><text x="1473" y="481.5">−10</text>
</g>
<g font-size="25" text-anchor="middle" fill="#111">
<text x="1508.4" y="510.5">80</text><text x="1586" y="510.5">100</text><text x="1663.5" y="510.5">120</text><text x="1741" y="510.5">140</text><text x="1818.6" y="510.5">160</text><text x="1896.1" y="510.5">180</text><text x="1972" y="510.5">200</text>
</g>
<text x="1732" y="551" font-size="28" text-anchor="middle">Energy (meV)</text>
<text transform="translate(1421,295.5) rotate(-90)" font-size="28" text-anchor="middle">Gain/loss (cm<tspan font-size="18" dy="-10">−1</tspan><tspan dy="10">)</tspan></text>
<line x1="1734" y1="413" x2="1776" y2="413" stroke="#e8141c" stroke-width="2.6"/>
<line x1="1734" y1="436" x2="1776" y2="436" stroke="#3c48a6" stroke-width="2.6"/>
<g font-size="20" fill="#111">
<text x="1781" y="420">Dual-upper-state</text>
<text x="1781" y="443">Bound-to-continuum</text>
</g>
</svg>
</body></html>
